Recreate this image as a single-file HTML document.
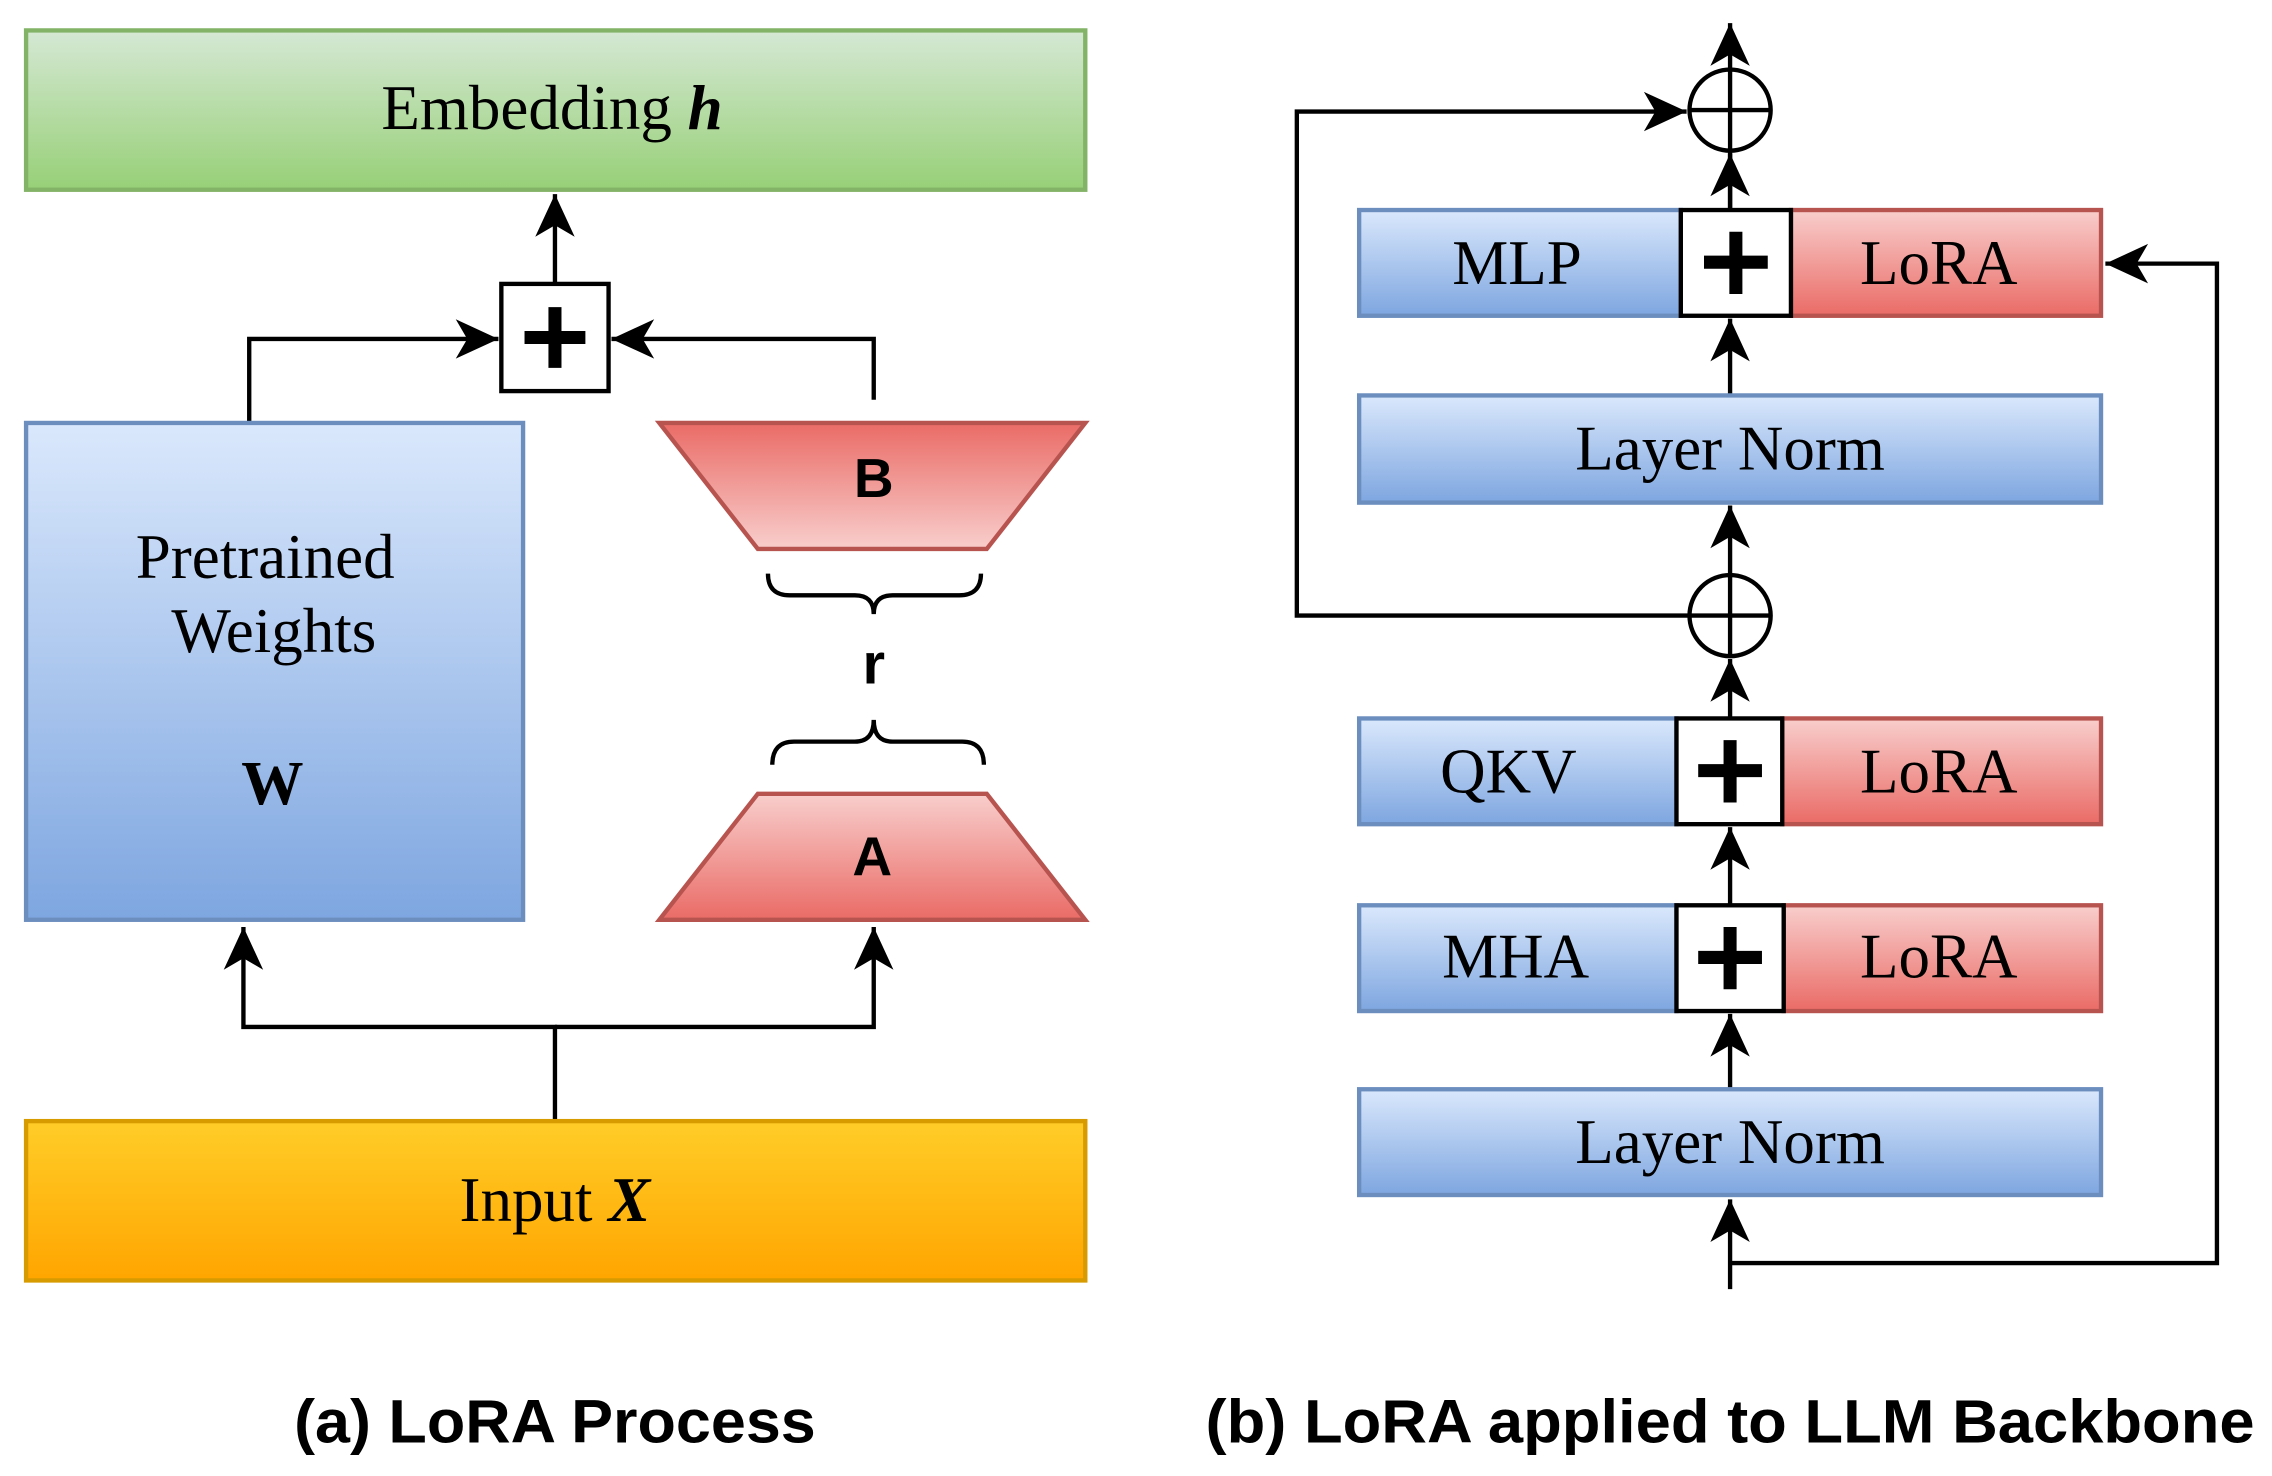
<!DOCTYPE html>
<html><head><meta charset="utf-8"><style>
html,body{margin:0;padding:0;background:#fff;}
svg{display:block;}
.serif{font-family:"Liberation Serif",serif;}
.sans{font-family:"Liberation Sans",sans-serif;font-weight:bold;}
</style></head><body>
<svg width="2272" height="1476" viewBox="0 0 1568 1019" preserveAspectRatio="none" xmlns="http://www.w3.org/2000/svg">
<defs>
<linearGradient id="gG" x1="0" y1="0" x2="0" y2="1"><stop offset="0" stop-color="#d5e8d4"/><stop offset="1" stop-color="#97d077"/></linearGradient>
<linearGradient id="gB" x1="0" y1="0" x2="0" y2="1"><stop offset="0" stop-color="#dae8fc"/><stop offset="1" stop-color="#7ea6e0"/></linearGradient>
<linearGradient id="gR" x1="0" y1="0" x2="0" y2="1"><stop offset="0" stop-color="#f8cecc"/><stop offset="1" stop-color="#ea6b66"/></linearGradient>
<linearGradient id="gRr" x1="0" y1="1" x2="0" y2="0"><stop offset="0" stop-color="#f8cecc"/><stop offset="1" stop-color="#ea6b66"/></linearGradient>
<linearGradient id="gO" x1="0" y1="0" x2="0" y2="1"><stop offset="0" stop-color="#ffcd28"/><stop offset="1" stop-color="#ffa500"/></linearGradient>
<marker id="a" viewBox="0 0 30 30" refX="28" refY="15" markerWidth="34" markerHeight="34" markerUnits="userSpaceOnUse" orient="auto">
<path d="M28 15 L2 3 L9 15 L2 27 Z" fill="#000"/>
</marker>
</defs>
<g stroke="#000" stroke-width="3" fill="none">
<path d="M383 196 V134" marker-end="url(#a)"/>
<path d="M172 292 V234 H344" marker-end="url(#a)"/>
<path d="M603 276 V234 H422" marker-end="url(#a)"/>
<path d="M383 774 V709 H168 V640" marker-end="url(#a)"/>
<path d="M383 709 H603 V640" marker-end="url(#a)"/>
<path d="M530 396 Q530 411 545 411 H590 Q603 411 603 424 Q603 411 616 411 H662 Q677 411 677 396"/>
<path d="M533 528 Q533 512 548 512 H590 Q603 512 603 497 Q603 512 616 512 H664 Q679 512 679 528"/>
<path d="M1194 48 V16" marker-end="url(#a)"/>
<path d="M1194 145 V106" marker-end="url(#a)"/>
<path d="M1194 273 V220" marker-end="url(#a)"/>
<path d="M1194 397 V349" marker-end="url(#a)"/>
<path d="M1194 496 V455" marker-end="url(#a)"/>
<path d="M1194 625 V571" marker-end="url(#a)"/>
<path d="M1194 752 V700" marker-end="url(#a)"/>
<path d="M1194 890 V828" marker-end="url(#a)"/>
<path d="M1166 425 H895 V77 H1164" marker-end="url(#a)"/>
<path d="M1194 872 H1530 V182 H1453" marker-end="url(#a)"/>
</g>
<rect x="18" y="21" width="731" height="110" fill="url(#gG)" stroke="#82b366" stroke-width="3"/>
<text x="381" y="89" text-anchor="middle" class="serif" font-size="43.5">Embedding <tspan font-weight="bold" font-style="italic">h</tspan></text>
<rect x="346" y="196" width="74" height="74" fill="#fff" stroke="#000" stroke-width="3"/>
<path d="M383 212 V254 M362 233 H404" stroke="#000" stroke-width="9"/>
<rect x="18" y="292" width="343" height="343" fill="url(#gB)" stroke="#6c8ebf" stroke-width="3"/>
<text x="183" y="399" text-anchor="middle" class="serif" font-size="43.5">Pretrained</text>
<text x="189" y="450" text-anchor="middle" class="serif" font-size="43.5">Weights</text>
<text x="188" y="555" text-anchor="middle" class="serif" font-size="43" font-weight="bold">W</text>
<polygon points="455,292 749,292 681,379 523,379" fill="url(#gRr)" stroke="#b85450" stroke-width="3"/>
<text x="603" y="343" text-anchor="middle" class="sans" font-size="38">B</text>
<polygon points="523,548 681,548 749,635 455,635" fill="url(#gR)" stroke="#b85450" stroke-width="3"/>
<text x="602" y="604" text-anchor="middle" class="sans" font-size="38">A</text>
<text x="603" y="472" text-anchor="middle" class="sans" font-size="40">r</text>
<rect x="18" y="774" width="731" height="110" fill="url(#gO)" stroke="#d79b00" stroke-width="3"/>
<text x="383" y="843" text-anchor="middle" class="serif" font-size="43.5">Input <tspan font-weight="bold" font-style="italic">X</tspan></text>
<g stroke="#000" stroke-width="3" fill="#fff">
<circle cx="1194" cy="76" r="28"/><path d="M1166 76 H1222 M1194 48 V104"/>
<circle cx="1194" cy="425" r="28"/><path d="M1166 425 H1222 M1194 397 V453"/>
</g>
<g stroke-width="3">
<rect x="938" y="145" width="222" height="73" fill="url(#gB)" stroke="#6c8ebf"/>
<rect x="1236" y="145" width="214" height="73" fill="url(#gR)" stroke="#b85450"/>
<rect x="1160" y="145" width="76" height="73" fill="#fff" stroke="#000"/>
<rect x="938" y="273" width="512" height="74" fill="url(#gB)" stroke="#6c8ebf"/>
<rect x="938" y="496" width="219" height="73" fill="url(#gB)" stroke="#6c8ebf"/>
<rect x="1230" y="496" width="220" height="73" fill="url(#gR)" stroke="#b85450"/>
<rect x="1157" y="496" width="73" height="73" fill="#fff" stroke="#000"/>
<rect x="938" y="625" width="219" height="73" fill="url(#gB)" stroke="#6c8ebf"/>
<rect x="1231" y="625" width="219" height="73" fill="url(#gR)" stroke="#b85450"/>
<rect x="1157" y="625" width="74" height="73" fill="#fff" stroke="#000"/>
<rect x="938" y="752" width="512" height="73" fill="url(#gB)" stroke="#6c8ebf"/>
</g>
<g stroke="#000" stroke-width="9">
<path d="M1198 160 V203 M1176 181 H1220"/>
<path d="M1194 511 V554 M1172 532 H1216"/>
<path d="M1194 640 V683 M1172 661 H1216"/>
</g>
<path d="M1194 104 V145" stroke="#000" stroke-width="3"/>
<g class="serif" font-size="43.5" text-anchor="middle">
<text x="1047" y="196">MLP</text>
<text x="1338" y="196">LoRA</text>
<text x="1194" y="324">Layer Norm</text>
<text x="1041" y="547">QKV</text>
<text x="1338" y="547">LoRA</text>
<text x="1046" y="675">MHA</text>
<text x="1338" y="675">LoRA</text>
<text x="1194" y="803">Layer Norm</text>
</g>
<text x="383" y="996" text-anchor="middle" class="sans" font-size="42" textLength="360" lengthAdjust="spacingAndGlyphs">(a) LoRA Process</text>
<text x="1194" y="996" text-anchor="middle" class="sans" font-size="42" textLength="724" lengthAdjust="spacingAndGlyphs">(b) LoRA applied to LLM Backbone</text>
</svg>
</body></html>
